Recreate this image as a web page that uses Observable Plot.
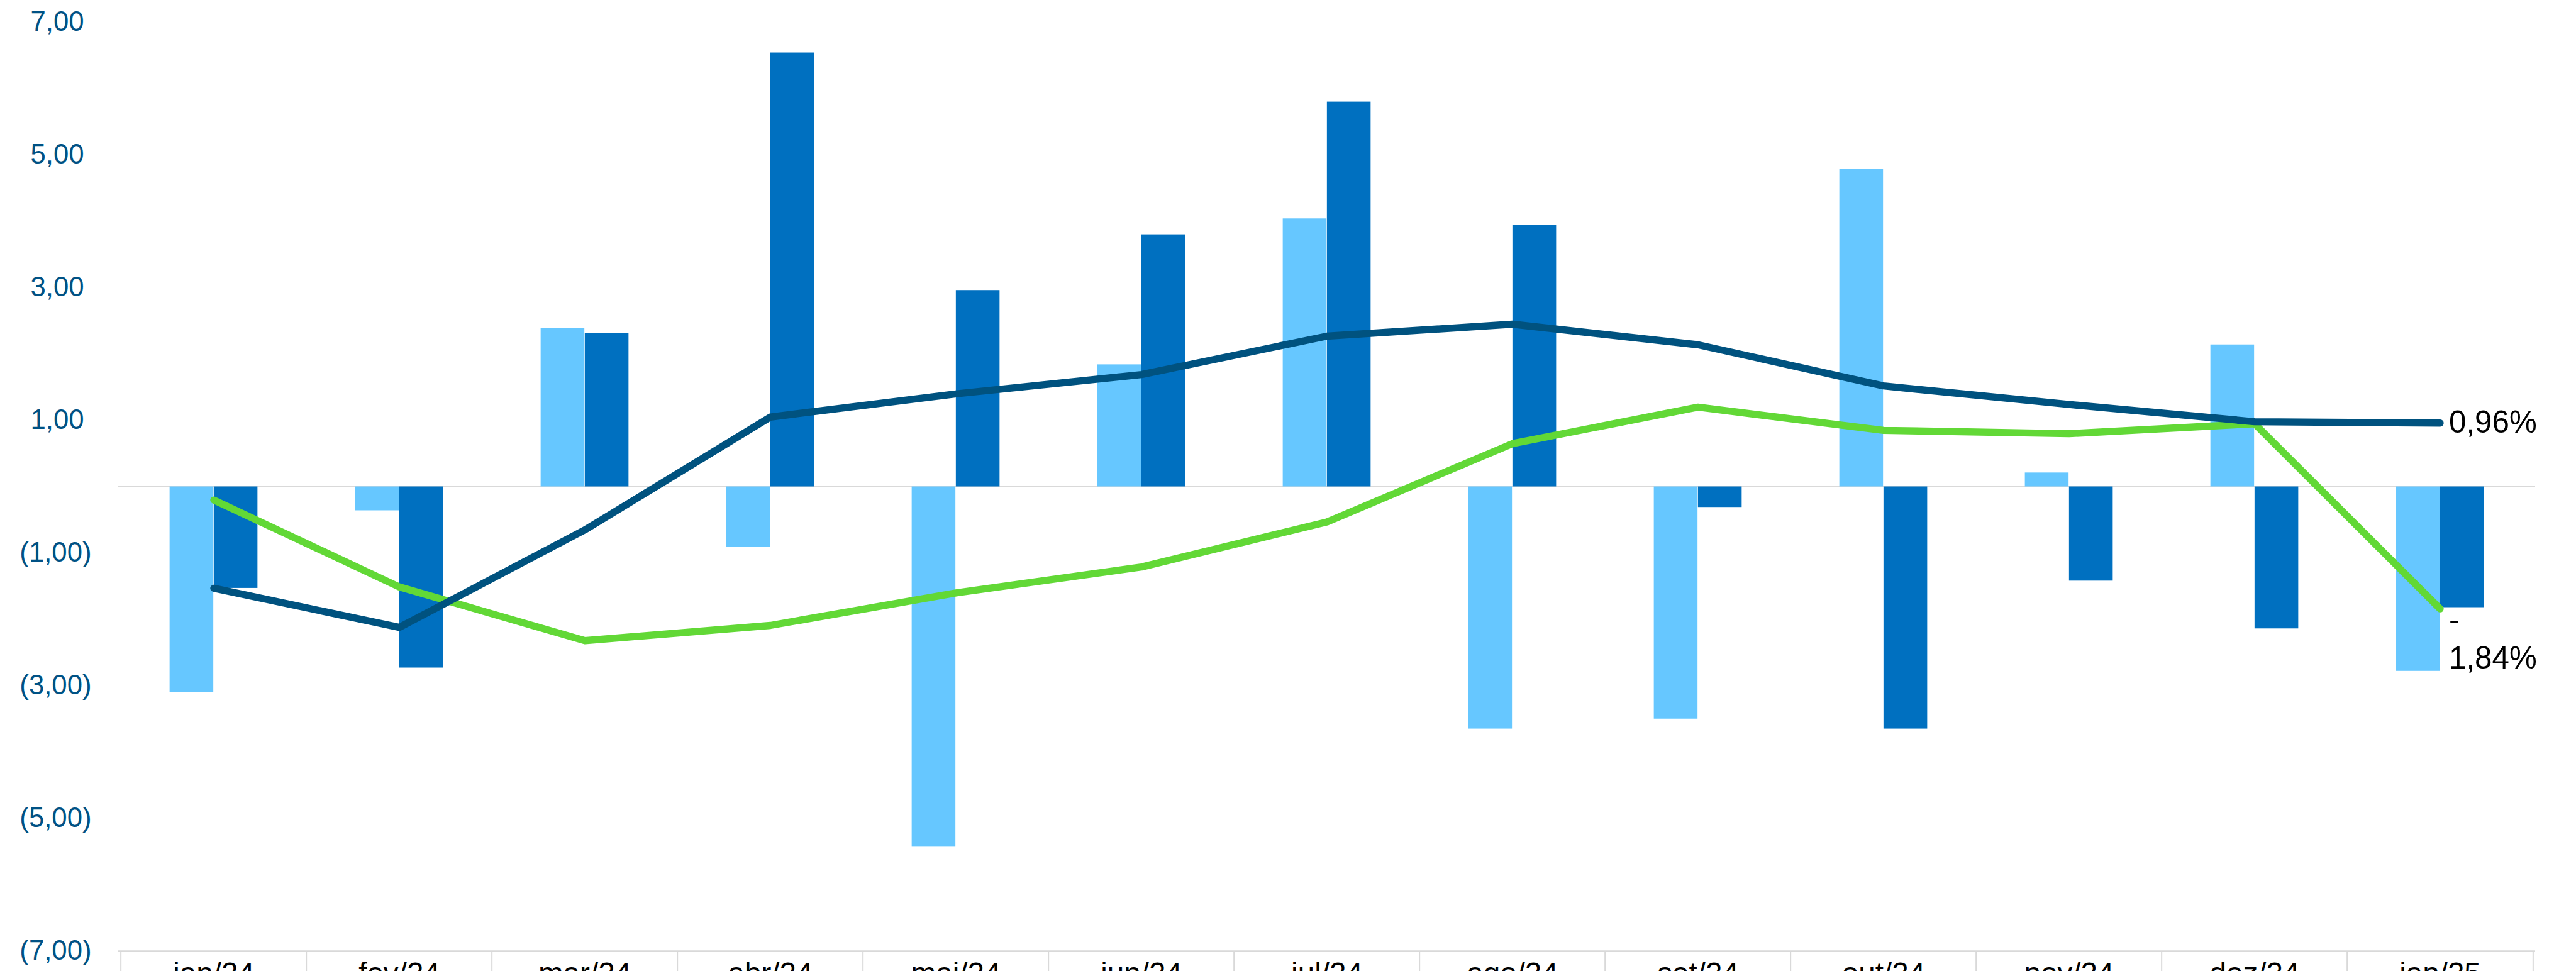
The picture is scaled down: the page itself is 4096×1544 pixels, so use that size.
<!DOCTYPE html>
<html>
<head>
<meta charset="utf-8">
<script src="https://cdn.jsdelivr.net/npm/d3@7"></script>
<script src="https://cdn.jsdelivr.net/npm/@observablehq/plot@0.6"></script>
<style>
  html, body { margin: 0; padding: 0; background: #fff; overflow: hidden; }
  #chart svg { display: block; }
</style>
</head>
<body>
<div id="chart"></div>
<script>
// ---- data ----
const months = ["jan/24","fev/24","mar/24","abr/24","mai/24","jun/24","jul/24","ago/24","set/24","out/24","nov/24","dez/24","jan/25"];
const barsLight = [-3.10, -0.36, 2.39, -0.91, -5.43, 1.84, 4.04, -3.65, -3.50, 4.79, 0.21, 2.14, -2.78];
const barsDark  = [-1.53, -2.73, 2.31, 6.54, 2.96, 3.80, 5.80, 3.94, -0.31, -3.65, -1.42, -2.14, -1.82];
const lineNavy  = [-1.53, -2.12, -0.65, 1.05, 1.40, 1.69, 2.27, 2.45, 2.14, 1.52, 1.24, 0.98, 0.96];
const lineGreen = [-0.20, -1.51, -2.32, -2.09, -1.60, -1.21, -0.53, 0.65, 1.20, 0.85, 0.80, 0.95, -1.84];
const yTicks = [7, 5, 3, 1, -1, -3, -5, -7];

// ---- layout ----
const W = 4096, H = 1544;
const mL = 187, mR = 65, mT = 35, mB = 32;
const band = (W - mL - mR) / months.length;
const barW = 70.2;
const pxPerUnit = (H - mB - mT) / 14;

const FONT = "'Liberation Sans', Arial, Helvetica, sans-serif";
const COL_LIGHT = "#66C7FF", COL_DARK = "#0070C0", COL_NAVY = "#00527F", COL_GREEN = "#62D836";
const GRID = "#D9D9D9";

const nf = new Intl.NumberFormat("pt-BR", {minimumFractionDigits: 2, maximumFractionDigits: 2});
const yFmt = v => v < 0 ? `(${nf.format(-v)})` : nf.format(v);
const pctLabel = v => v < 0 ? `-\n${nf.format(-v)}%` : `${nf.format(v)}%`;

const rows = (vals) => months.map((m, i) => ({month: m, v: vals[i]}));
const light = rows(barsLight), dark = rows(barsDark), navy = rows(lineNavy), green = rows(lineGreen);
const last = months.length - 1;

const chart = Plot.plot({
  width: W, height: H,
  marginLeft: mL, marginRight: mR, marginTop: mT, marginBottom: mB,
  style: {fontFamily: FONT, background: "#fff", overflow: "hidden"},
  x: {type: "band", domain: months, padding: 0, label: null},
  y: {domain: [-7, 7], label: null},
  marks: [
    // zero line
    Plot.ruleY([0], {stroke: GRID, strokeWidth: 2}),
    // category table lines below the plot
    Plot.ruleY([-7], {stroke: GRID, strokeWidth: 2.6}),
    Plot.ruleX(months, {x: d => d, dx: -band / 2, y1: -7, y2: -7 - (mB + 5) / pxPerUnit, stroke: GRID, strokeWidth: 2}),
    Plot.ruleX([months[last]], {x: d => d, dx: band / 2, y1: -7, y2: -7 - (mB + 5) / pxPerUnit, stroke: GRID, strokeWidth: 2}),
    // bars
    Plot.barY(light, {x: "month", y1: 0, y2: "v", fill: COL_LIGHT, insetLeft: band / 2 - barW, insetRight: band / 2}),
    Plot.barY(dark, {x: "month", y1: 0, y2: "v", fill: COL_DARK, insetLeft: band / 2, insetRight: band / 2 - barW}),
    // lines
    Plot.line(green, {x: "month", y: "v", stroke: COL_GREEN, strokeWidth: 11.4, strokeLinecap: "round", strokeLinejoin: "round"}),
    Plot.line(navy, {x: "month", y: "v", stroke: COL_NAVY, strokeWidth: 11.4, strokeLinecap: "round", strokeLinejoin: "round"}),
    // end labels
    Plot.text([navy[last]], {x: "month", y: "v", text: d => pctLabel(d.v), textAnchor: "start", dx: 14, dy: -1, fontSize: 49.3, fill: "#000"}),
    Plot.text([green[last]], {x: "month", y: "v", text: d => pctLabel(d.v), textAnchor: "start", lineAnchor: "top", lineHeight: 1.25, dx: 14, dy: -10, fontSize: 49.3, fill: "#000"}),
    // y axis: positives padded like Excel's "_)" format
    Plot.axisY({ticks: yTicks.filter(t => t > 0), tickFormat: yFmt, tickSize: 0, tickPadding: 54, fontSize: 43.7, color: "#005285", label: null}),
    Plot.axisY({ticks: yTicks.filter(t => t < 0), tickFormat: yFmt, tickSize: 0, tickPadding: 42, fontSize: 43.7, color: "#005285", label: null}),
    // x axis labels (cut off at the bottom, as in the reference)
    Plot.axisX({tickSize: 0, tickPadding: 18, fontSize: 47.6, color: "#000", label: null})
  ]
});
document.getElementById("chart").appendChild(chart);
</script>
</body>
</html>
